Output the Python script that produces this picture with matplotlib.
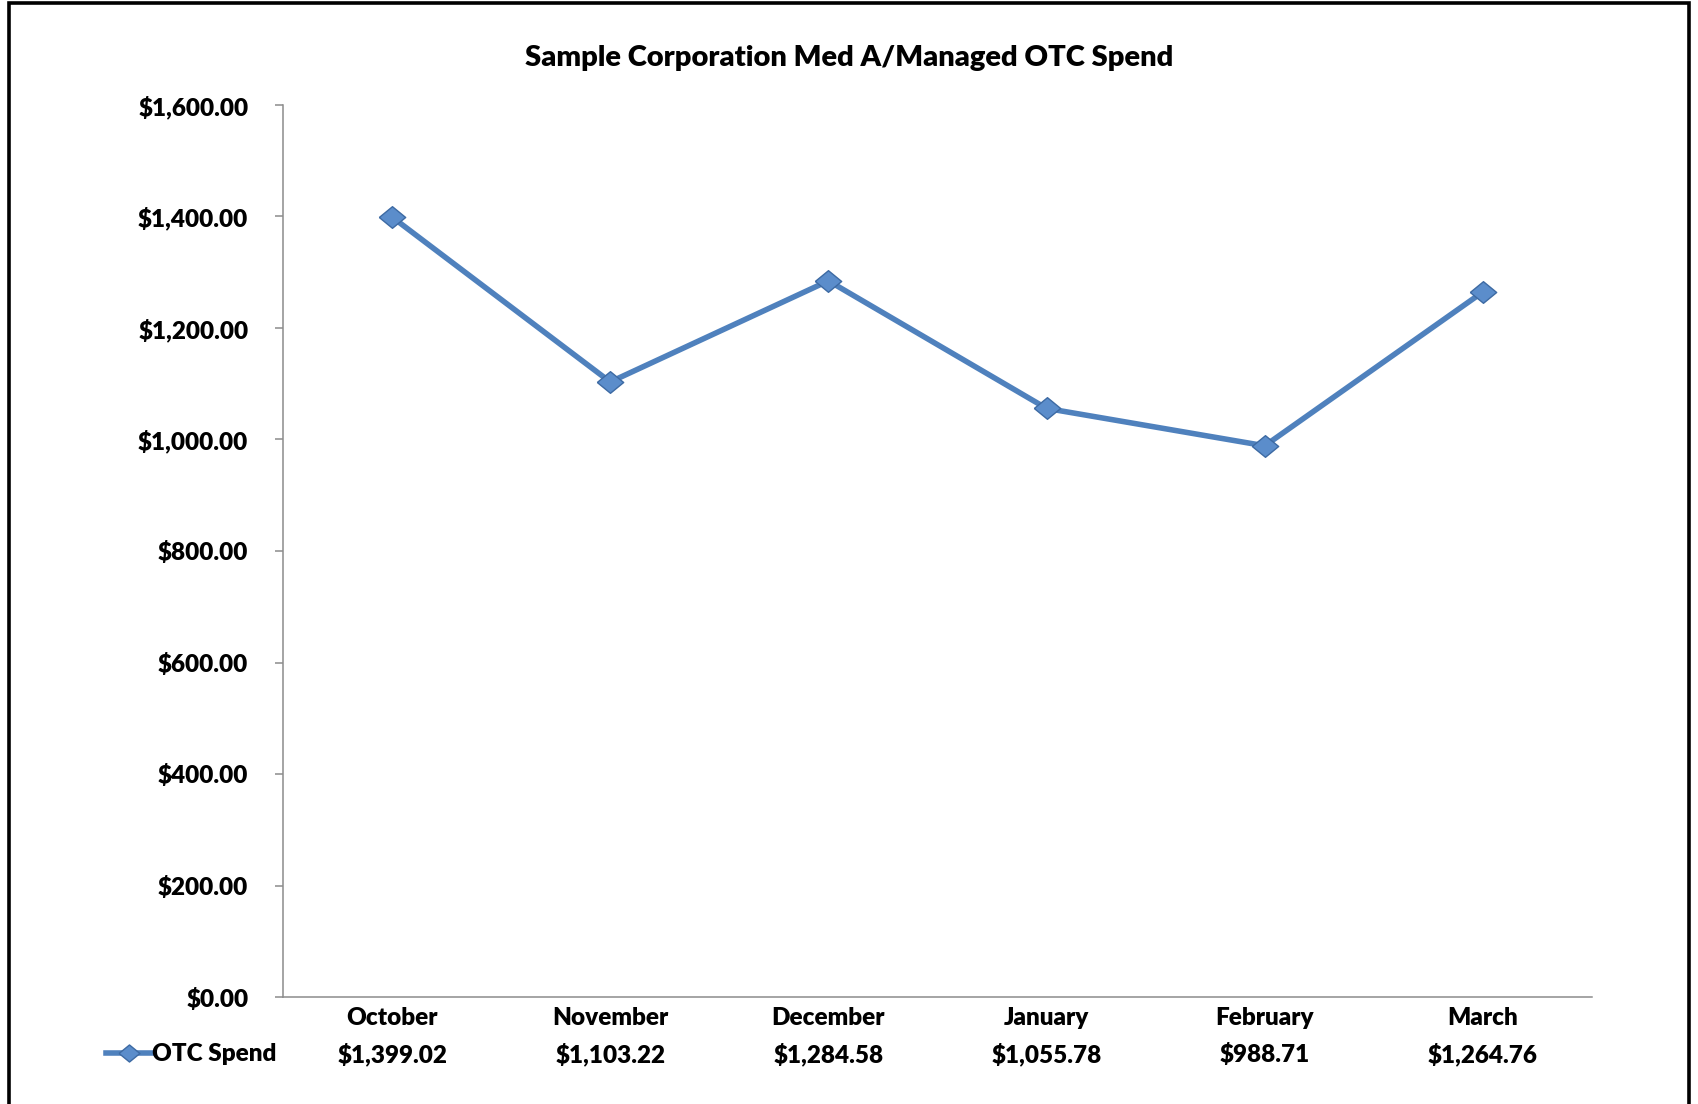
import matplotlib
matplotlib.use("Agg")
import matplotlib.pyplot as plt
from matplotlib.patches import Rectangle
from matplotlib.ticker import FuncFormatter

# 数据
months = ["October", "November", "December", "January", "February", "March"]
otc_spend = [1399.02, 1103.22, 1284.58, 1055.78, 988.71, 1264.76]
series_name = "OTC Spend"
title = "Sample Corporation Med A/Managed OTC Spend"

plt.rcParams["font.family"] = ["Lato", "DejaVu Sans"]
W = "heavy"
plt.rcParams["font.weight"] = W

fig = plt.figure(figsize=(16.98, 11.04), dpi=100)
ax = fig.add_axes([283 / 1698, 1 - 997 / 1104, 1309 / 1698, 892 / 1104])

x = list(range(len(months)))
diamond = [(-1, 0), (0, 0.82), (1, 0), (0, -0.82), (-1, 0)]
ax.plot(x, otc_spend, color="#4F81BD", linewidth=4.0, marker=diamond,
        markersize=19, markerfacecolor="#5B8DCB", markeredgecolor="#3D6AA3",
        markeredgewidth=1.0, label=series_name, zorder=3)

ax.set_xlim(-0.5, len(months) - 0.5)
ax.set_ylim(0, 1600)
ax.set_yticks(range(0, 1601, 200))
ax.yaxis.set_major_formatter(FuncFormatter(lambda v, p: f"${v:,.2f}"))
ax.set_xticks(x)
ax.set_xticklabels(months)

for s in ["top", "right"]:
    ax.spines[s].set_visible(False)
for s in ["left", "bottom"]:
    ax.spines[s].set_color("#8C8C8C")
    ax.spines[s].set_linewidth(1.1)

ax.tick_params(axis="y", length=6, width=1.1, color="#8C8C8C", pad=19,
               labelsize=17.5)
ax.tick_params(axis="x", length=0, pad=7.5, labelsize=17.5)
for lab in ax.get_xticklabels() + ax.get_yticklabels():
    lab.set_fontweight(W)

# 数据表那一行
for xi, v in zip(x, otc_spend):
    ax.text(xi, -0.064, f"${v:,.2f}", transform=ax.get_xaxis_transform(),
            ha="center", va="center", fontsize=17.5, fontweight=W)

leg = ax.legend(loc="center right", bbox_to_anchor=(-0.005, -0.064),
                frameon=False, fontsize=17.5, handlelength=1.9,
                handletextpad=0.0, borderpad=0, borderaxespad=0)
for t in leg.get_texts():
    t.set_fontweight(W)
leg.legend_handles[0].set_markersize(15)

fig.text(0.5, 1 - 58 / 1104, title, ha="center", va="center",
         fontsize=21, fontweight=W)

# 外框
fig.patches.append(Rectangle((9 / 1698, -0.02), 1680 / 1698, 1.02 - 3 / 1104,
                             transform=fig.transFigure, fill=False,
                             edgecolor="black", linewidth=2.6))

fig.savefig("out.png", dpi=100)
